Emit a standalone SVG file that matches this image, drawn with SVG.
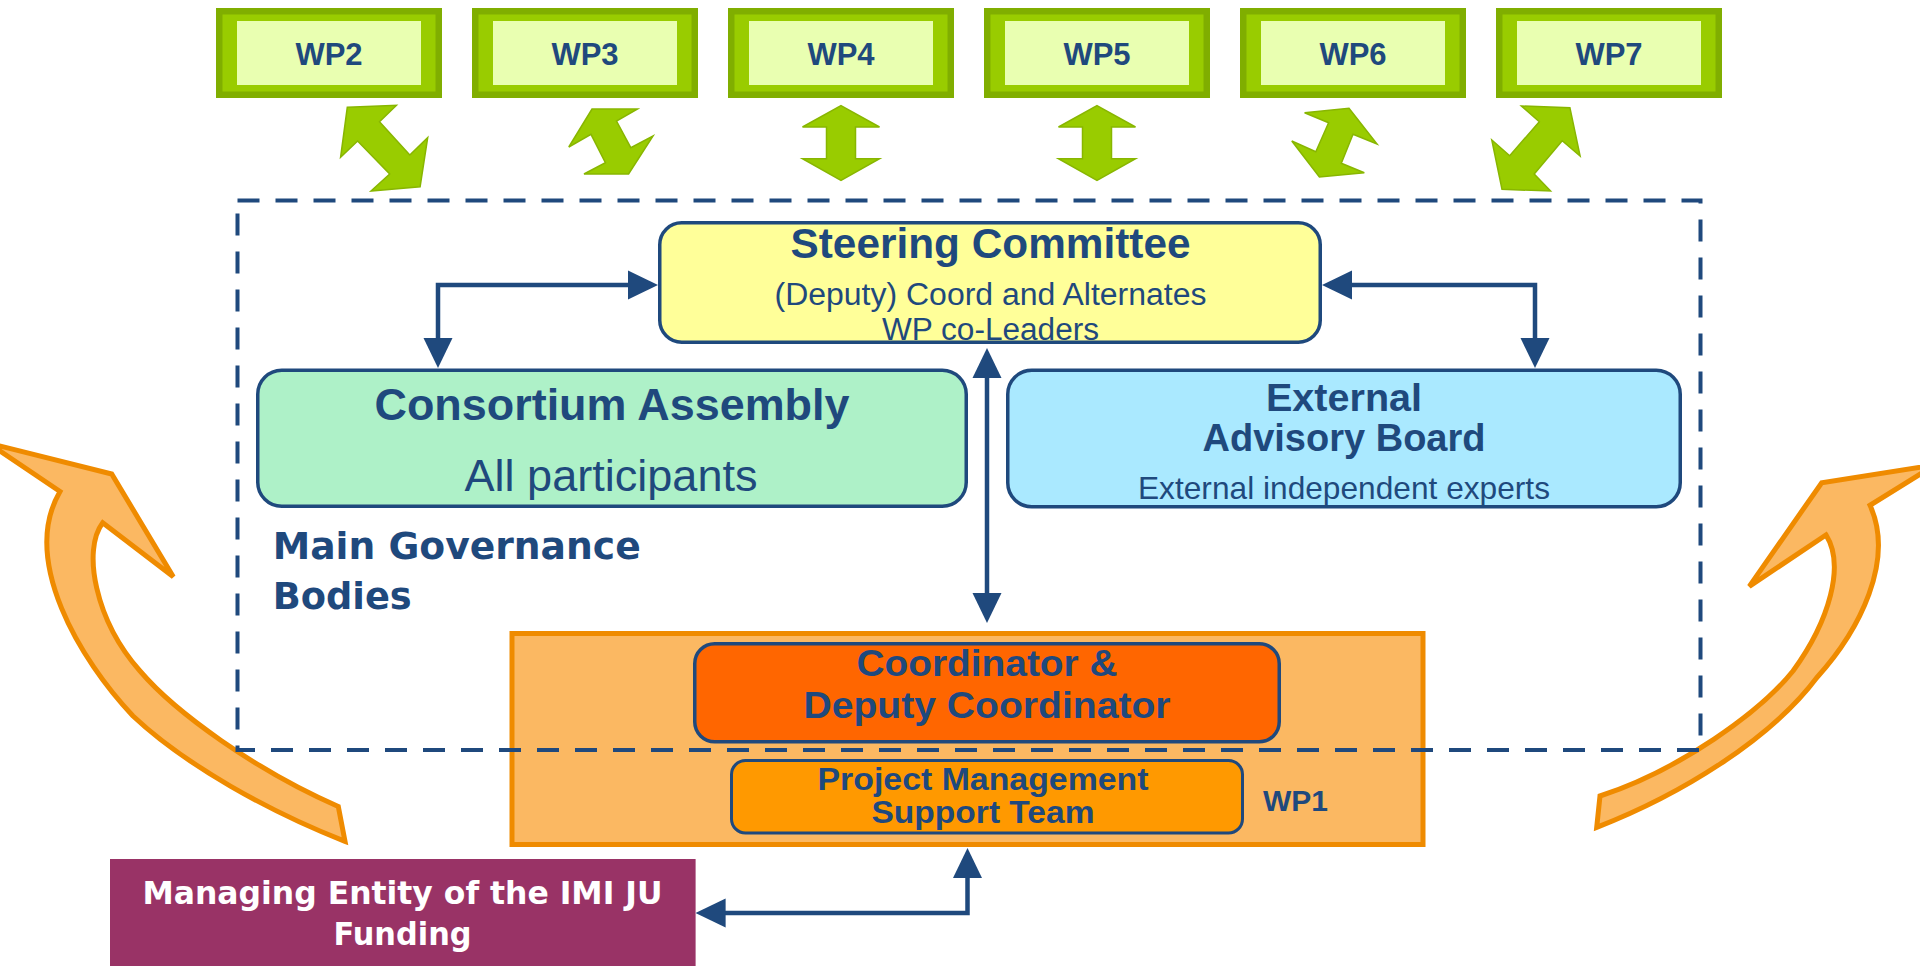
<svg xmlns="http://www.w3.org/2000/svg" xmlns:xlink="http://www.w3.org/1999/xlink" width="1920" height="966" viewBox="0 0 1920 966">
  <defs>
    <style>
      .t{font-family:"Liberation Sans",Arial,sans-serif;fill:#1F497D;text-anchor:middle}
      .b{font-weight:bold}
      .v{font-family:"DejaVu Sans",Verdana,sans-serif;font-weight:bold}
      .wpo{fill:#80AE00}
      .wpm{fill:#99CC00}
      .wpi{fill:#E9FFB1}
      .box{stroke:#1F497D;stroke-width:3.5}
      .link{fill:none;stroke:#1F497D;stroke-width:4.5;marker-start:url(#ah);marker-end:url(#ah)}
      .garrow{fill:#99CC00;stroke:#88B600;stroke-width:1.5}
      .oarrow{fill:#FBB862;stroke:#EF8B00;stroke-width:5}
    </style>
    <marker id="ah" markerUnits="userSpaceOnUse" markerWidth="30" markerHeight="30" viewBox="0 0 30 30" refX="20" refY="15" orient="auto-start-reverse">
      <path d="M0,0.5 L30,15 L0,29.5 Z" fill="#1F497D"/>
    </marker>
    <!-- work package tile: dark rim, green frame, pale face -->
    <g id="wptile">
      <rect x="0" y="0" width="226" height="90" class="wpo"/>
      <rect x="6.5" y="6.5" width="213" height="77" class="wpm"/>
      <rect x="21" y="13" width="184" height="64" class="wpi"/>
    </g>
  </defs>

  <rect width="1920" height="966" fill="#ffffff"/>

  <!-- funding flows (curved block arrows) -->
  <g id="flows">
    <path class="oarrow" d="M-12,443 L111.7,474 L173.3,576.7 L102.7,522.7 C82,550 95,620 140,671 C175,712 255,770 338.3,806.5 L345,841.3 C270,812 185,765 133,716 C80,660 20,560 60,491.4 Z"/>
    <path class="oarrow" d="M1935,465 L1821.7,482.7 L1749.3,586.4 L1826,534.9 C1845,565 1830,620 1793,671 C1760,712 1680,770 1600,796 L1596.7,827.4 C1680,795 1770,740 1816.7,677.7 C1860,630 1895,560 1870,505.3 Z"/>
  </g>

  <!-- work packages -->
  <g id="wp2"><use xlink:href="#wptile" x="216" y="8"/><text class="t b" x="329" y="65" font-size="31">WP2</text></g>
  <g id="wp3"><use xlink:href="#wptile" x="472" y="8"/><text class="t b" x="585" y="65" font-size="31">WP3</text></g>
  <g id="wp4"><use xlink:href="#wptile" x="728" y="8"/><text class="t b" x="841" y="65" font-size="31">WP4</text></g>
  <g id="wp5"><use xlink:href="#wptile" x="984" y="8"/><text class="t b" x="1097" y="65" font-size="31">WP5</text></g>
  <g id="wp6"><use xlink:href="#wptile" x="1240" y="8"/><text class="t b" x="1353" y="65" font-size="31">WP6</text></g>
  <g id="wp7"><use xlink:href="#wptile" x="1496" y="8"/><text class="t b" x="1609" y="65" font-size="31">WP7</text></g>

  <!-- WP1 management block -->
  <g id="wp1-block">
    <rect x="512" y="633.5" width="911" height="211" fill="#FBB862" stroke="#EF8B00" stroke-width="5"/>
    <text class="t b" x="1263" y="811" font-size="30" style="text-anchor:start">WP1</text>
  </g>
  <g id="coordinator">
    <rect class="box" x="694.75" y="643.75" width="584.5" height="98" rx="20" fill="#FF6600"/>
    <text class="t b" x="987" y="676" font-size="37" textLength="261" lengthAdjust="spacingAndGlyphs">Coordinator &amp;</text>
    <text class="t b" x="987" y="718" font-size="37" textLength="367" lengthAdjust="spacingAndGlyphs">Deputy Coordinator</text>
  </g>
  <g id="support-team">
    <rect x="731.5" y="760.5" width="511" height="72.5" rx="14" fill="#FF9900" stroke="#1F497D" stroke-width="3"/>
    <text class="t b" x="983" y="790" font-size="32" textLength="331" lengthAdjust="spacingAndGlyphs">Project Management</text>
    <text class="t b" x="983" y="823" font-size="32" textLength="223" lengthAdjust="spacingAndGlyphs">Support Team</text>
  </g>

  <!-- governance bodies frame -->
  <g id="governance">
    <rect x="237.5" y="200.5" width="1463" height="549.5" fill="none" stroke="#1F497D" stroke-width="4" stroke-dasharray="22 16"/>
    <text class="v" x="272.7" y="558.5" font-size="38" fill="#1F497D" textLength="368" lengthAdjust="spacingAndGlyphs">Main Governance</text>
    <text class="v" x="272.7" y="609" font-size="38" fill="#1F497D" textLength="139" lengthAdjust="spacingAndGlyphs">Bodies</text>
  </g>

  <g id="steering-committee">
    <rect class="box" x="659.75" y="222.75" width="660.5" height="119.5" rx="22" fill="#FFFF99"/>
    <text class="t b" x="990.5" y="258" font-size="42" textLength="400" lengthAdjust="spacingAndGlyphs">Steering Committee</text>
    <text class="t" x="990.5" y="305" font-size="31" textLength="432" lengthAdjust="spacingAndGlyphs">(Deputy) Coord and Alternates</text>
    <text class="t" x="990.5" y="340" font-size="31" textLength="217" lengthAdjust="spacingAndGlyphs">WP co-Leaders</text>
  </g>

  <g id="consortium-assembly">
    <rect class="box" x="257.75" y="370.25" width="708.5" height="136" rx="24" fill="#AEF1C8"/>
    <text class="t b" x="612" y="420" font-size="44" textLength="475" lengthAdjust="spacingAndGlyphs">Consortium Assembly</text>
    <text class="t" x="611" y="491" font-size="44" textLength="293" lengthAdjust="spacingAndGlyphs">All participants</text>
  </g>

  <g id="advisory-board">
    <rect class="box" x="1007.75" y="370.25" width="672.5" height="136.5" rx="24" fill="#AAE9FF"/>
    <text class="t b" x="1344" y="411" font-size="39" textLength="156" lengthAdjust="spacingAndGlyphs">External</text>
    <text class="t b" x="1344" y="451" font-size="39" textLength="283" lengthAdjust="spacingAndGlyphs">Advisory Board</text>
    <text class="t" x="1344" y="499" font-size="32" textLength="412" lengthAdjust="spacingAndGlyphs">External independent experts</text>
  </g>

  <g id="managing-entity">
    <rect x="110" y="859" width="585.6" height="110" fill="#993366"/>
    <text class="v" x="402.5" y="904" font-size="32" fill="#FFFFFF" text-anchor="middle" textLength="520" lengthAdjust="spacingAndGlyphs">Managing Entity of the IMI JU</text>
    <text class="v" x="402.5" y="945" font-size="32" fill="#FFFFFF" text-anchor="middle" textLength="138" lengthAdjust="spacingAndGlyphs">Funding</text>
  </g>

  <!-- connectors -->
  <g id="connectors">
    <polygon class="garrow" points="347.3,107.3 396.4,105.3 379.5,121.7 409.8,155 427.7,137.7 420.1,186.7 371,191 389.7,174 357.6,141 340.6,157.3"/>
    <polygon class="garrow" points="592,109 637.5,109 616.5,121 630.8,147.7 653,136 628.6,174 584,174 605.4,162.7 591,134.3 568.8,147"/>
    <polygon class="garrow" points="841,105.7 879.5,127 855.5,127 855.5,158.7 879.5,158.7 841,180.3 802.5,158.7 826.5,158.7 826.5,127 802.5,127"/>
    <polygon class="garrow" points="1097,105.7 1135.5,127 1111.5,127 1111.5,158.7 1135.5,158.7 1097,180.3 1058.5,158.7 1082.5,158.7 1082.5,127 1058.5,127"/>
    <polygon class="garrow" points="1304.6,112.7 1349,108.3 1377,144 1353,134.3 1341.3,163.3 1364.3,172.7 1319.4,177 1291.8,141 1315.8,151.7 1328.6,122.7"/>
    <polygon class="garrow" points="1521.4,106 1569.9,107.7 1580.1,156 1562.2,140.7 1534.2,174 1550.5,191 1502,189.3 1491.8,140 1509.7,155.7 1539.3,121.7"/>

    <path class="link" d="M438,358 L438,285 L648,285"/>
    <path class="link" d="M1535,358 L1535,285 L1332,285"/>
    <path class="link" d="M987,358 L987,613"/>
    <path class="link" d="M967.5,858 L967.5,913 L705.6,913"/>
  </g>
</svg>
